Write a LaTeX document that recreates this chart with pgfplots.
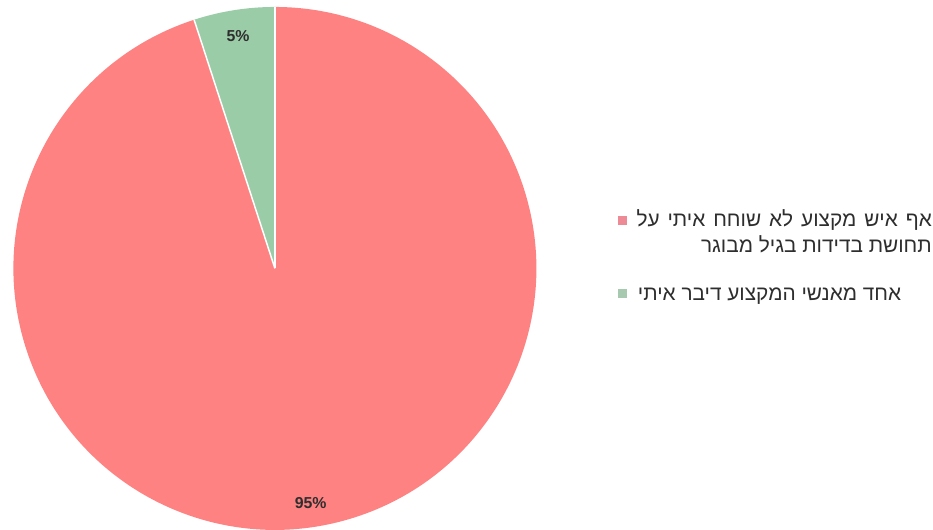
\documentclass[border=0pt]{standalone}
\usepackage{fontspec}
\setmainfont{Liberation Sans}
\newfontfamily\hebfont[Script=Hebrew]{Liberation Sans}
\TeXXeTstate=1
\usepackage{pgfplots}
\usepackage{pgfplotstable}
\pgfplotsset{compat=1.18}
\definecolor{pred}{HTML}{FF8282}
\definecolor{pgreen}{HTML}{9BCCA8}
\definecolor{lred}{HTML}{EE8A96}
\definecolor{lgreen}{HTML}{A6C9AF}
\definecolor{txt}{HTML}{2E2E2E}
\pgfplotstableread{
label share
agreed 5
notalk 95
}\piedata
\begin{document}
\pgfplotstablegetelem{0}{share}\of\piedata\let\va\pgfplotsretval
\pgfplotstablegetelem{1}{share}\of\piedata\let\vb\pgfplotsretval
\pgfmathsetmacro\angA{90+3.6*\va}
\pgfmathsetmacro\angB{\angA+3.6*\vb}
\begin{tikzpicture}
\begin{axis}[x=1bp,y=1bp,xmin=0,xmax=933,ymin=0,ymax=533,hide axis,clip=false,
  scale only axis]
\path (axis cs:0,0) rectangle (axis cs:933,533);
\fill[pgreen] (axis cs:271,263) -- ++(90:263bp) arc[start angle=90, end angle=\angA, radius=263bp] -- cycle;
\fill[pred] (axis cs:271,263) -- ++(\angA:263bp) arc[start angle=\angA, end angle=\angB, radius=263bp] -- cycle;
\draw[white, line width=1.5bp] (axis cs:271,263) -- ++(90:263bp);
\draw[white, line width=1.5bp] (axis cs:271,263) -- ++(\angA:263bp);
\node[txt, font=\fontsize{16}{18}\selectfont\bfseries] at (axis cs:234,497) {\va\%};
\node[txt, font=\fontsize{16}{18}\selectfont\bfseries] at (axis cs:307,27) {\vb\%};
% legend
\fill[lred] (axis cs:616,307) rectangle (axis cs:625,316);
\fill[lgreen] (axis cs:616,233) rectangle (axis cs:625,242);
\node[anchor=base east, txt, font=\fontsize{21}{24}\selectfont\hebfont, inner sep=0pt] at (axis cs:932,305) {\spaceskip=0.38em\beginR אף איש מקצוע לא שוחח איתי על\endR};
\node[anchor=base east, txt, font=\fontsize{21}{24}\selectfont\hebfont, inner sep=0pt] at (axis cs:932,279) {\beginR תחושת בדידות בגיל מבוגר\endR};
\node[anchor=base west, txt, font=\fontsize{21}{24}\selectfont\hebfont, inner sep=0pt] at (axis cs:636,231) {\beginR אחד מאנשי המקצוע דיבר איתי\endR};
\end{axis}
\pgfresetboundingbox
\path (0,0) rectangle (933bp,533bp);
\end{tikzpicture}
\end{document}
